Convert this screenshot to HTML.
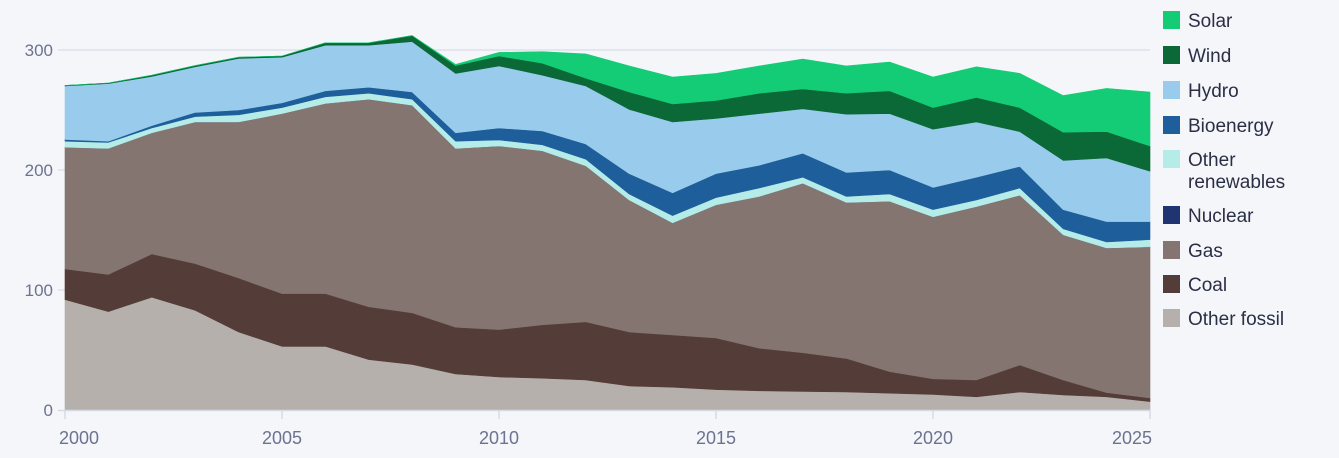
<!DOCTYPE html>
<html><head><meta charset="utf-8"><style>
html,body{margin:0;padding:0;background:#f5f6fa;}
body{width:1339px;height:453px;overflow:hidden;font-family:"Liberation Sans",sans-serif;}
svg text{font-family:"Liberation Sans",sans-serif;}
</style></head><body>
<svg id="chart" width="1339" height="453" xmlns="http://www.w3.org/2000/svg"></svg>
<script>
const years=[2000,2001,2002,2003,2004,2005,2006,2007,2008,2009,2010,2011,2012,2013,2014,2015,2016,2017,2018,2019,2020,2021,2022,2023,2024,2025];
const otherFossil=[92,82,94,83,65,53,53,42,38,30,27.5,26.5,25,20,19,17,16,15.5,15,14,13,11,15,12.5,11,7];
const coal=[25.5,31,36,39,45,44,44,44,43,39,39.5,44.5,48.5,45,43.5,43,35.5,32.2,28,18,13,14,22.5,12.5,3.5,3];
const gas=[101.5,105,101,118,130,150,158.5,173,173,149,153,145,130,110,93.5,111,126.5,141.3,130,142,135,144.5,141.5,121,120.5,126];
const nuclear=[0,0,0,0,0,0,0,0,0,0,0,0,0,0,0,0,0,0,0,0,0,0,0,0,0,0];
const otherRenewables=[5,5,4,4.5,6,5,5.5,5,5,6,5,5,5.5,5,6,6,7,5,5,6,6,5.5,6,5,5,6];
const bioenergy=[1.5,1,2,3.5,4,4,5,5,6,7,10,11.5,12.7,17,19,20,19,20,20,20,18.5,19,18,16,17,15];
const hydro=[44.5,48,41,38,43,38,38,35,42,49.5,51.7,46.5,48.3,53.5,59,46,43,37,48.5,47,48.5,46,29,41,53,42];
const wind=[0.5,0.5,1,1,1,1,2,2,5,6.5,8.3,10,6.5,14.5,15,15,17,16.5,17.5,19,18,20.5,20,23.5,22,21];
const solar=[0,0,0,0,0,0,0,0,0,1,3,9.6,20.2,21.7,22.5,22.5,22.7,25,22.7,24,25.5,25.5,28.5,30.5,36,45];
const yTicks=[0,100,200,300];
const xTicks=[2000,2005,2010,2015,2020,2025];

const series=[
 {name:'Other fossil',key:'other-fossil',vals:otherFossil,color:'#b6b0ad'},
 {name:'Coal',key:'coal',vals:coal,color:'#543c38'},
 {name:'Gas',key:'gas',vals:gas,color:'#847571'},
 {name:'Nuclear',key:'nuclear',vals:nuclear,color:'#1f3572'},
 {name:'Other renewables',key:'other-renewables',vals:otherRenewables,color:'#b5ece8'},
 {name:'Bioenergy',key:'bioenergy',vals:bioenergy,color:'#1e5e9b'},
 {name:'Hydro',key:'hydro',vals:hydro,color:'#99ccec'},
 {name:'Wind',key:'wind',vals:wind,color:'#0b6837'},
 {name:'Solar',key:'solar',vals:solar,color:'#14cc75'}
];
const NS='http://www.w3.org/2000/svg';
const svg=document.getElementById('chart');
const x0=65,x1=1150,y0=410,yTop=50;
const xs=y=>x0+(y-2000)*(x1-x0)/25;
const ys=v=>y0-v*(y0-yTop)/300;
function mk(t,a){const e=document.createElementNS(NS,t);for(const k in a)e.setAttribute(k,a[k]);return e;}

// grid
yTicks.forEach(t=>{
 if(t>0){const g=mk('line',{x1:58,x2:x1,y1:ys(t),y2:ys(t),stroke:'#dde1ea','stroke-width':1.5});
 
 
 svg.appendChild(g);}
 const tx=mk('text',{x:53,y:ys(t)+6,'text-anchor':'end','font-size':17,fill:'#6b7390'});
 tx.textContent=t;
 
 
 svg.appendChild(tx);
});

// areas
let cum=years.map(()=>0);
series.forEach(s=>{
 const lower=cum.slice();
 const upper=cum.map((c,i)=>c+s.vals[i]);
 let d='M'+years.map((y,i)=>xs(y)+','+ys(upper[i])).join('L');
 d+='L'+years.slice().reverse().map((y,j)=>{const i=years.length-1-j;return xs(y)+','+ys(lower[i]);}).join('L')+'Z';
 const p=mk('path',{d:d,fill:s.color,stroke:s.color,'stroke-width':0.6,'stroke-linejoin':'round'});
 
 
 svg.appendChild(p);
 cum=upper;
});

// x axis
const ax=mk('line',{x1:58,x2:x1,y1:y0+0.5,y2:y0+0.5,stroke:'#d6dae4','stroke-width':1.5});


svg.appendChild(ax);
xTicks.forEach((t,i)=>{
 const tk=mk('line',{x1:xs(t),x2:xs(t),y1:y0,y2:y0+9,stroke:'#d6dae4','stroke-width':1.5});
 
 
 svg.appendChild(tk);
 const anchor=i===0?'start':(i===xTicks.length-1?'end':'middle');
 const xx=i===0?xs(t)-6:(i===xTicks.length-1?xs(t)+2:xs(t));
 const tx=mk('text',{x:xx,y:444,'text-anchor':anchor,'font-size':18,fill:'#6b7390'});
 tx.textContent=t;
 
 
 svg.appendChild(tx);
});

// legend
const leg=[
 ['Solar','#14cc75',20],['Wind','#0b6837',55],['Hydro','#99ccec',90],['Bioenergy','#1e5e9b',125],
 ['Other','#b5ece8',159],['Nuclear','#1f3572',215],['Gas','#847571',250],['Coal','#543c38',284],['Other fossil','#b6b0ad',318]
];
leg.forEach(l=>{
 const key=l[0]==='Other'?'other-renewables':l[0].toLowerCase().replace(' ','-');
 const r=mk('rect',{x:1163,y:l[2]-9,width:17,height:18,fill:l[1]});
 
 
 svg.appendChild(r);
 const tx=mk('text',{x:1188,y:l[2]+7,'font-size':19,fill:'#2a2f45'});
 tx.textContent=l[0];
 
 
 svg.appendChild(tx);
 if(l[0]==='Other'){
  const t2=mk('text',{x:1188,y:l[2]+29,'font-size':19,fill:'#2a2f45'});
  t2.textContent='renewables';
  
  
  svg.appendChild(t2);
 }
});
</script>
</body></html>
